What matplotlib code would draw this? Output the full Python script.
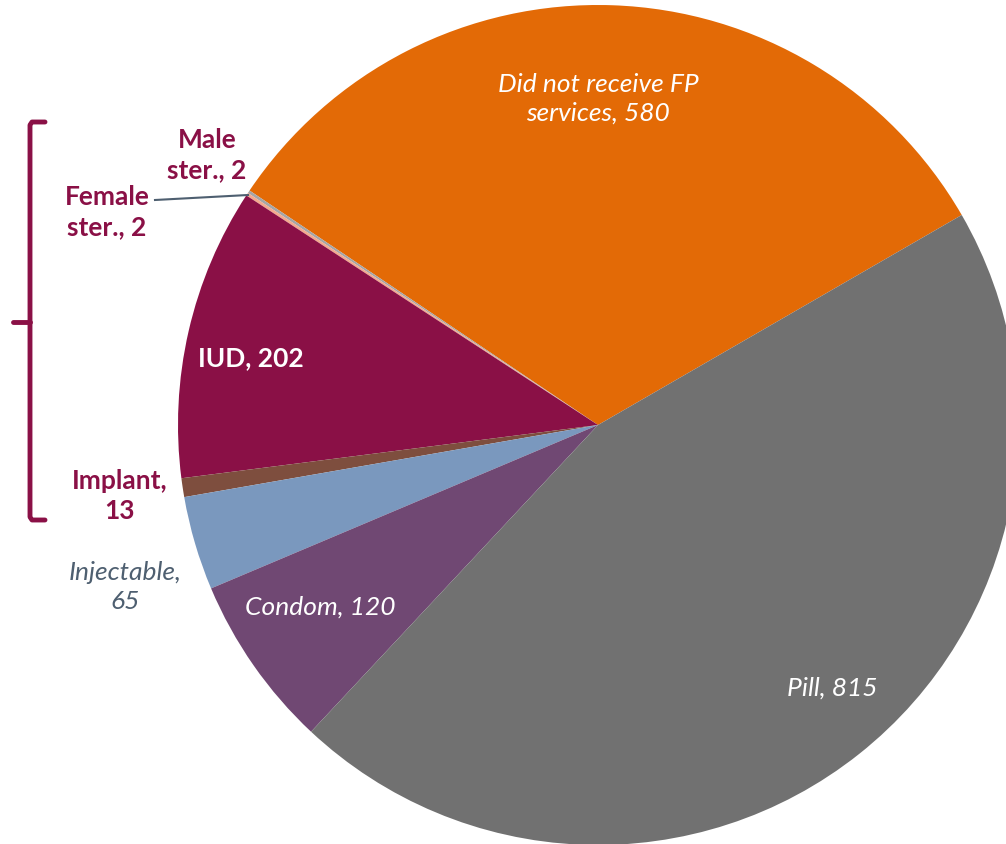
import matplotlib.pyplot as plt
from matplotlib.lines import Line2D

# slices, counterclockwise starting at the orange one
categories = ['Did not receive FP\nservices', 'Male\nster.', 'Female\nster.', 'IUD',
              'Implant', 'Injectable', 'Condom', 'Pill']
values = [580, 2, 2, 202, 13, 65, 120, 815]
colors = ['#E36A06', '#A6A6A6', '#F4A98E', '#8A1046',
          '#7E4E3E', '#7A98BE', '#704873', '#717171']

W, H = 1006, 844
MAROON = '#8A1046'
SLATE = '#4E5F70'

plt.rcParams['font.family'] = ['Lato', 'DejaVu Sans']

fig = plt.figure(figsize=(W / 100, H / 100), dpi=100)
ax = fig.add_axes([0, 0, 1, 1])

ax.pie(values, colors=colors, startangle=30, counterclock=True,
       radius=420, center=(598, H - 425),
       wedgeprops=dict(linewidth=0), frame=True)
ax.set_xlim(0, W)
ax.set_ylim(0, H)
ax.set_aspect('equal')
ax.axis('off')


def label(x, y, s, color, style='normal', weight='normal'):
    # x, y in pixels from the top-left corner
    ax.text(x, H - y, s, color=color, fontsize=19, style=style, weight=weight,
            ha='center', va='center', linespacing=1.28)


def lab(i):
    return f'{categories[i]}, {values[i]}'


label(598, 99, lab(0), 'white', style='italic')
label(207, 155, lab(1), MAROON, weight='bold')
label(107, 212, lab(2), MAROON, weight='bold')
label(251, 358, lab(3), 'white', weight='bold')
label(120, 496, 'Implant,\n13', MAROON, weight='bold')
label(125, 587, 'Injectable,\n65', SLATE, style='italic')
label(320, 607, lab(6), 'white', style='italic')
label(832, 688, lab(7), 'white', style='italic')

# leader line for female sterilization
ax.add_line(Line2D([155, 248], [H - 200, H - 195], color=SLATE, lw=1.5))

# bracket grouping the long-acting methods
bx = [45, 32, 30, 30, 32, 45]
by = [H - 122, H - 122, H - 125, H - 517, H - 520, H - 520]
ax.add_line(Line2D(bx, by, color=MAROON, lw=3.5, solid_capstyle='round',
                   solid_joinstyle='round'))
ax.add_line(Line2D([13, 30], [H - 322, H - 322], color=MAROON, lw=3.5,
                   solid_capstyle='round'))

fig.savefig('out.png', dpi=100)
